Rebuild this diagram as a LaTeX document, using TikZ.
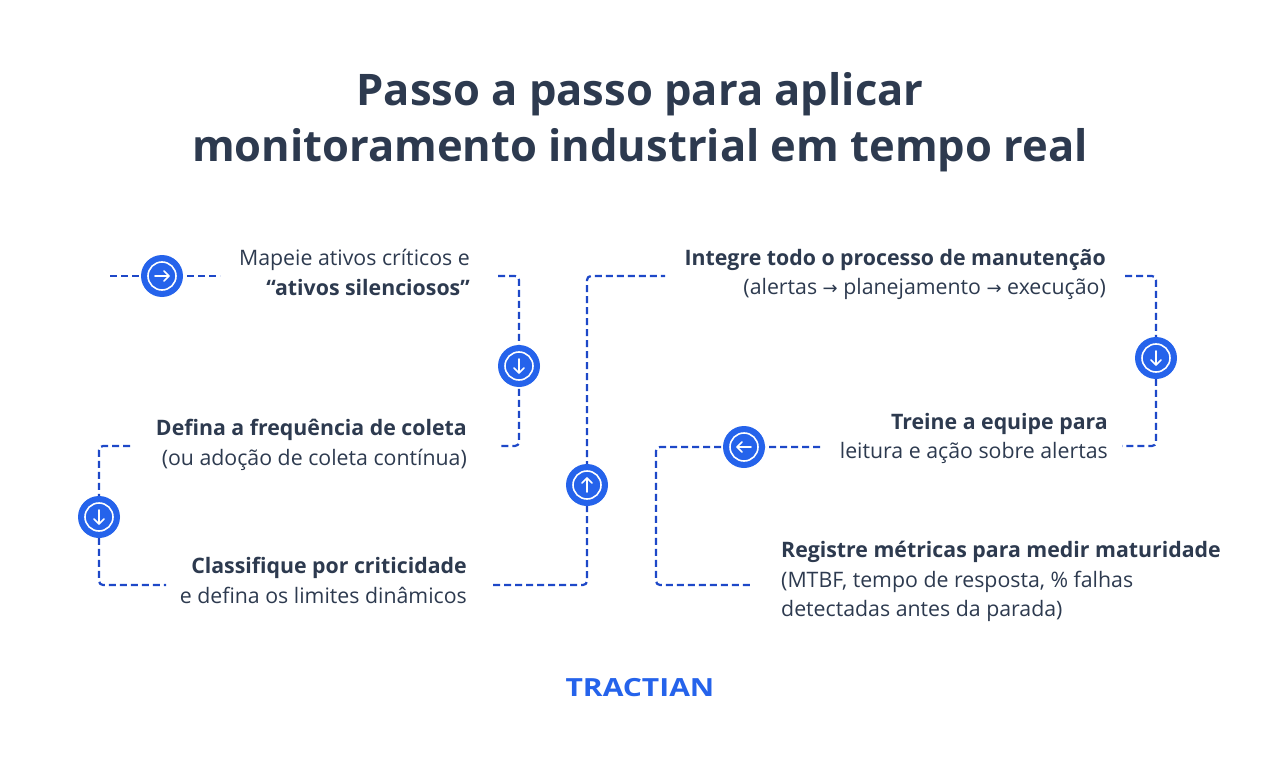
\documentclass[tikz,border=0pt]{standalone}
\usepackage{fontspec}
\setmainfont{Open Sans}
\newfontfamily\symf{DejaVu Sans}
\usetikzlibrary{calc}
\definecolor{ink}{HTML}{2D3A4F}
\definecolor{bl}{HTML}{2563EB}
\definecolor{ln}{HTML}{1E48C8}
\tikzset{
 conn/.style={draw=ln,line width=2.2pt,dash pattern=on 7pt off 4pt,rounded corners=4pt},
 ic/.style={circle,fill=bl,minimum size=42pt,inner sep=0pt},
 txt/.style={font=\fontsize{21.3}{29.5}\selectfont,text=ink,inner sep=0pt},
 ttl/.style={font=\fontsize{43.5}{60}\selectfont\bfseries,text=ink,align=center},
}
\newcommand{\icon}[3]{% name, pos, angle
 \node[ic] (#1) at #2 {};
 \draw[white,line width=1.6pt] (#1) circle (14pt);
 \begin{scope}[shift={(#1)},rotate=#3]
  \draw[white,line width=1.6pt,line cap=round,line join=round] (-7pt,0)--(7pt,0) (2pt,-5pt)--(7pt,0)--(2pt,5pt);
 \end{scope}}
\newcommand{\ar}{{\symf\fontsize{18}{20}\selectfont →}}
\begin{document}
\begin{tikzpicture}[x=1pt,y=-1pt]
\useasboundingbox[fill=white] (0,0) rectangle (1280,757);
\node[ttl] (title) at (640,122) {Passo a passo para aplicar\\[-4pt]monitoramento industrial em tempo real};
% connectors
\coordinate (a1) at (110,276); \coordinate (a2) at (220,276);
\draw[conn] (a1)--(a2);
\coordinate (b1) at (498,276); \coordinate (b2) at (498,446);
\draw[conn] (b1)-|(519,360)|-(b2);
\coordinate (c1) at (130,446); \coordinate (c2) at (166,585);
\draw[conn] (c1)-|(99,517)|-(c2);
\coordinate (d1) at (493,585); \coordinate (d2) at (665,276);
\draw[conn] (d1)-|(587,430)|-(d2);
\coordinate (e1) at (1125,276); \coordinate (e2) at (1122,446);
\draw[conn] (e1)-|(1156,360)|-(e2);
\coordinate (f1) at (820,447); \coordinate (f2) at (752,585);
\draw[conn] (f1)--(700,447)-|(656,520)|-(f2);
\icon{i1}{(162,276)}{0}
\icon{i2}{(519,366)}{-90}
\icon{i3}{(99,517)}{-90}
\icon{i4}{(587,485)}{90}
\icon{i5}{(744,447)}{180}
\icon{i6}{(1156,358)}{-90}
% texts
\node[txt,anchor=north east,align=right] (t1) at (470,249) {Mapeie ativos críticos e\\\textbf{“ativos silenciosos”}};
\node[txt,anchor=north east,align=right] (t2) at (467,419) {\textbf{Defina a frequência de coleta}\\(ou adoção de coleta contínua)};
\node[txt,anchor=north east,align=right] (t3) at (467,557) {\textbf{Classifique por criticidade}\\e defina os limites dinâmicos};
\node[txt,anchor=north east,align=right] (t4) at (1106,249) {\textbf{Integre todo o processo de manutenção}\\(alertas \ar{} planejamento \ar{} execução)};
\node[txt,anchor=north east,align=right] (t5) at (1108,413) {\textbf{Treine a equipe para}\\leitura e ação sobre alertas};
\node[txt,anchor=north west,align=left] (t6) at (781,541) {\textbf{Registre métricas para medir maturidade}\\(MTBF, tempo de resposta, \% falhas\\detectadas antes da parada)};
\node[font=\fontsize{25}{25}\selectfont\bfseries,text=bl,xscale=1.2] (logo) at (640,688) {TRACTIAN};
\end{tikzpicture}
\end{document}
